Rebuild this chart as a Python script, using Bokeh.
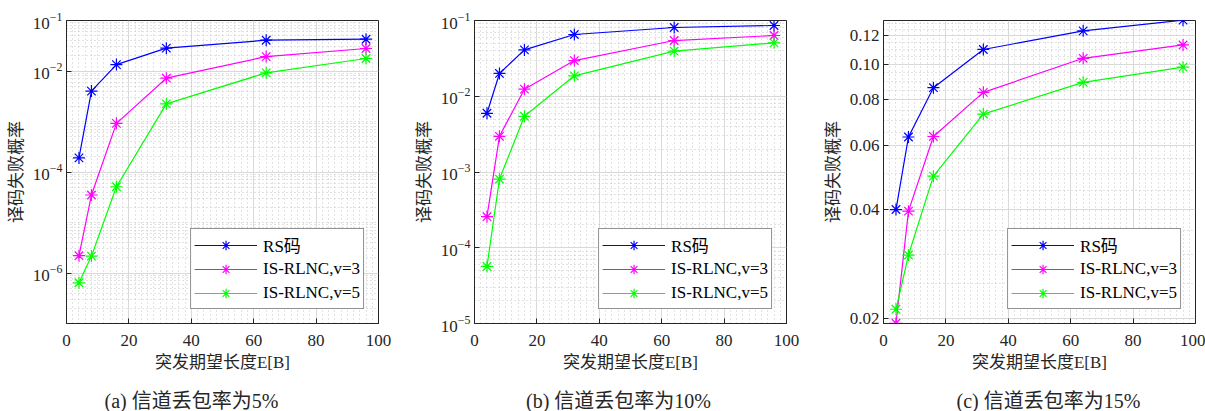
from bokeh.plotting import figure
from bokeh.models import (FixedTicker, SingleIntervalTicker, Legend, LegendItem, Label,
                          NumeralTickFormatter)
from bokeh.layouts import row, column
from bokeh.embed import file_html
from bokeh.resources import INLINE

# ---------------- data ----------------
x_burst = [4, 8, 16, 32, 64, 96]
series_names = ["RS码", "IS-RLNC,v=3", "IS-RLNC,v=5"]
colors = ["#0000ff", "#ff00ff", "#00ff00"]

a_rs = [1.9e-4, 4.0e-3, 1.34e-2, 2.83e-2, 4.07e-2, 4.26e-2]
a_v3 = [2.2e-6, 3.5e-5, 9.2e-4, 7.2e-3, 1.93e-2, 2.79e-2]
a_v5 = [6.4e-7, 2.16e-6, 5.1e-5, 2.23e-3, 9.2e-3, 1.77e-2]

b_rs = [5.96e-3, 2.0e-2, 4.09e-2, 6.53e-2, 8.08e-2, 8.59e-2]
b_v3 = [2.57e-4, 2.96e-3, 1.24e-2, 2.96e-2, 5.44e-2, 6.34e-2]
b_v5 = [5.66e-5, 8.07e-4, 5.44e-3, 1.86e-2, 3.94e-2, 5.07e-2]

c_rs = [0.0399, 0.0632, 0.0864, 0.1101, 0.1239, 0.1326]
c_v3 = [0.0194, 0.0395, 0.0634, 0.0839, 0.1041, 0.1133]
c_v5 = [0.0212, 0.0299, 0.0493, 0.0731, 0.0894, 0.0984]

a_major = [1e-6, 1e-4, 1e-2, 1e-1]
b_major = [1e-5, 1e-4, 1e-3, 1e-2, 1e-1]
c_major = [0.02, 0.04, 0.06, 0.08, 0.10, 0.12]

captions = ["(a) 信道丢包率为5%", "(b) 信道丢包率为10%", "(c) 信道丢包率为15%"]
x_label = "突发期望长度E[B]"
y_label = "译码失败概率"

# ---------------- style ----------------
SERIF = "'Liberation Serif', 'Noto Sans CJK SC'"
TXT = "#262626"
H = 386
CAP_H = 25
FRAME_W = 312


def log_minors(lo_exp, hi_exp, majors):
    out = []
    for e in range(lo_exp, hi_exp + 1):
        for k in range(1, 10):
            v = k * 10.0 ** e
            if all(abs(v - m) > 1e-9 * v for m in majors):
                out.append(v)
    return out


def make_panel(bl, br, yr, majors, minors, data, fmt=None):
    p = figure(width=bl + FRAME_W + br, height=H, x_range=(0, 100), y_range=yr,
               y_axis_type="log", output_backend="svg", toolbar_location=None,
               min_border_left=bl, min_border_right=br, min_border_top=20,
               min_border_bottom=H - 20 - 303)
    p.outline_line_color = TXT
    p.outline_line_width = 1
    p.outline_line_alpha = 1

    xt = SingleIntervalTicker(interval=20, num_minor_ticks=10)
    yt = FixedTicker(ticks=majors, minor_ticks=minors)
    p.xaxis.ticker = xt
    p.yaxis.ticker = yt
    p.xgrid.ticker = xt
    p.ygrid.ticker = yt
    if fmt is not None:
        p.yaxis.formatter = fmt

    for ax in (p.xaxis, p.yaxis):
        ax.axis_line_color = TXT
        ax.major_tick_in = 5
        ax.major_tick_out = 0
        ax.minor_tick_in = 0
        ax.minor_tick_out = 0
        ax.major_tick_line_color = TXT
        ax.major_label_text_font = SERIF
        ax.major_label_text_font_size = "17px"
        ax.major_label_text_color = TXT
        ax.axis_label_text_font = SERIF
        ax.axis_label_text_font_size = "17px"
        ax.axis_label_text_font_style = "normal"
        ax.axis_label_text_color = TXT
    p.xaxis.major_label_standoff = 11
    p.xaxis.axis_label_standoff = 4
    p.yaxis.major_label_standoff = 4
    p.yaxis.axis_label_standoff = 4
    p.xaxis.axis_label = x_label
    p.yaxis.axis_label = y_label

    for g in (p.xgrid, p.ygrid):
        g.grid_line_color = "#d9d9d9"
        g.grid_line_width = 1
        g.minor_grid_line_color = "#c4c4c4"
        g.minor_grid_line_dash = "1 3"
        g.minor_grid_line_width = 1

    items = []
    for name, col, ys in zip(series_names, colors, data):
        lr = p.line(x_burst, ys, line_color=col, line_width=1.2)
        sr = p.scatter(x_burst, ys, marker="asterisk", size=12, line_color=col, line_width=1.2)
        items.append(LegendItem(label=name, renderers=[lr, sr]))

    leg = Legend(items=items, location="bottom_right", margin=14, padding=3, spacing=0,
                 glyph_width=63, glyph_height=24, label_height=24, label_standoff=6,
                 label_text_font=SERIF, label_text_font_size="17px", label_text_color="#000000",
                 border_line_color=TXT, border_line_width=1, background_fill_alpha=1)
    p.add_layout(leg)
    return p


pa = make_panel(66, 30, (1e-7, 1e-1), a_major, log_minors(-7, -2, a_major),
                [a_rs, a_v3, a_v5])
pb = make_panel(66, 22, (1e-5, 1e-1), b_major, log_minors(-5, -2, b_major),
                [b_rs, b_v3, b_v5])
c_minor = [round(0.02 + 0.005 * i, 3) for i in range(0, 23)]
c_minor = [v for v in c_minor if all(abs(v - m) > 1e-9 for m in c_major)]
pc = make_panel(75, 10, (0.01937, 0.1323), c_major, c_minor,
                [c_rs, c_v3, c_v5], fmt=NumeralTickFormatter(format="0.00"))

# caption strip below the three panels
total_w = pa.width + pb.width + pc.width
capfig = figure(width=total_w, height=CAP_H, x_range=(0, total_w), y_range=(0, CAP_H),
                output_backend="svg", toolbar_location=None,
                x_axis_location=None, y_axis_location=None, min_border=0)
capfig.outline_line_color = None
capfig.xgrid.visible = False
capfig.ygrid.visible = False
for text, cx in zip(captions, [191, 618, 1048]):
    capfig.add_layout(Label(x=cx, y=11, x_units="screen", y_units="screen", text=text,
                            text_align="center", text_baseline="middle",
                            text_font=SERIF, text_font_size="20px", text_color=TXT))

layout = column(row(pa, pb, pc, spacing=0), capfig, spacing=0)
open("out.html", "w").write(file_html(layout, INLINE))
